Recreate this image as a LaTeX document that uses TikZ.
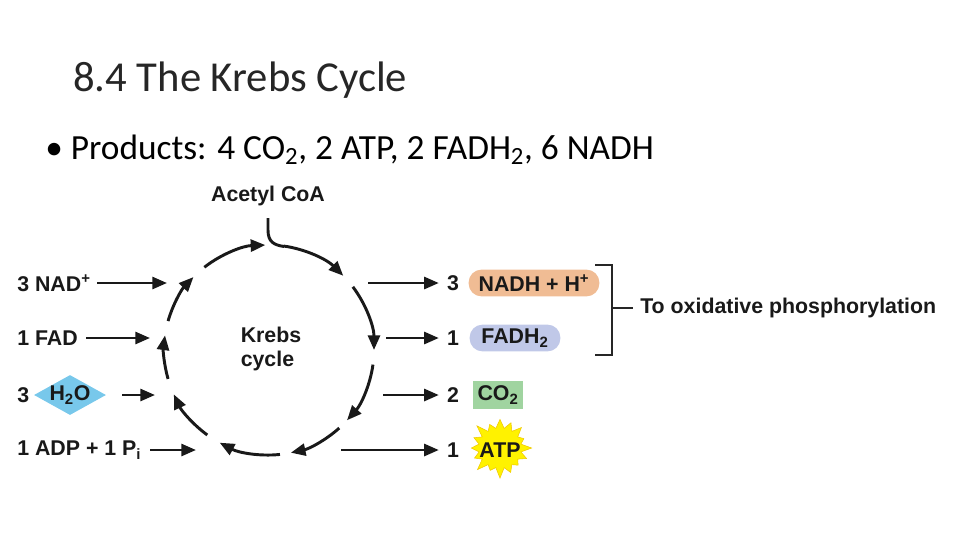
\documentclass[tikz,border=0pt]{standalone}
\usepackage{fontspec}
\setmainfont{Carlito}
\newfontfamily\arialf{Liberation Sans}
\usetikzlibrary{arrows.meta,shapes.geometric,shapes.symbols,calc}
\begin{document}
\begin{tikzpicture}[x=0.75pt,y=-0.75pt,
  lab/.style={font=\arialf\bfseries\fontsize{16}{18}\selectfont, inner sep=0pt, text=black!90},
  arr/.style={line width=2pt, -{Triangle[length=11pt,width=9pt]}, black!90},
  cyc/.style={line width=2.2pt, -{Triangle[length=11pt,width=9pt]}, black!90}]
\useasboundingbox (0,0) rectangle (960,540);
\node[anchor=west, inner sep=0pt, font=\fontsize{32}{36}\selectfont, text=black!85] (title) at (73,80) {8.4 The Krebs Cycle};
\node[anchor=west, inner sep=0pt, font=\fontsize{26.5}{30}\selectfont] (bul) at (45,150) {\textbullet\ Products: 4 CO\textsubscript{2}, 2 ATP, 2 FADH\textsubscript{2}, 6 NADH};
% cycle
\coordinate (c) at (269,350);
\def\R{105}
\foreach \a/\b in {128/92, 37/0, -8/-42, -48/-78, -84/-118, -126/-155, -164/-188, 164/136, 82/45}{
  \draw[cyc] ($(c)+({0-\a}:\R)$) arc[start angle={0-\a}, end angle={0-\b}, radius=\R];
}
\node[lab] (acoa) at (268,196) {Acetyl CoA};
\coordinate (ac1) at (268,218);
\draw[line width=2.2pt, black!90] (ac1) -- (268,230) .. controls (268,242) and (274,245) .. (284,246.5);
\node[lab, align=left] (kc) at (271,349) {Krebs\\cycle};
% left inputs
\node[lab, anchor=west] (nad) at (17,283) {3 NAD\textsuperscript{+}};
\coordinate (nadE) at (167,283);
\draw[arr] (97,283) -- (nadE);
\node[lab, anchor=west] (fad) at (17,338) {1 FAD};
\coordinate (fadE) at (150,338);
\draw[arr] (86,338) -- (fadE);
\node[lab, anchor=west] (three) at (17,395) {3};
\node[diamond, fill={rgb,255:red,120;green,200;blue,235}, minimum width=54pt, minimum height=30pt, inner sep=0pt, aspect=1.8] (h2o) at (70,395) {};
\node[lab] at (h2o) {H\textsubscript{2}O};
\coordinate (h2oE) at (155,395);
\draw[arr] (122,395) -- (h2oE);
\node[lab, anchor=west] (adp) at (17,450) {1 ADP + 1 P\textsubscript{i}};
\coordinate (adpE) at (196,450);
\draw[arr] (150,450) -- (adpE);
% right outputs
\coordinate (o1) at (368,283); \coordinate (o2) at (386,338);
\coordinate (o3) at (383,395); \coordinate (o4) at (341,450);
\node[lab] (n1) at (453,283) {3};
\node[lab] (n2) at (453,338) {1};
\node[lab] (n3) at (453,395) {2};
\node[lab] (n4) at (453,450) {1};
\foreach \o/\n in {o1/n1,o2/n2,o3/n3,o4/n4}{ \draw[arr] (\o) -- ([xshift=-6pt]\n.west); }
\node[lab, fill={rgb,255:red,240;green,188;blue,148}, rounded corners=9.5pt, minimum height=20pt, minimum width=98pt] (nadh) at (534,283) {NADH + H\textsuperscript{+}};
\node[lab, fill={rgb,255:red,192;green,200;blue,232}, rounded corners=9.5pt, minimum height=20pt, minimum width=68pt] (fadh) at (515,338) {FADH\textsubscript{2}};
\node[lab, fill={rgb,255:red,160;green,212;blue,160}, minimum height=21pt, minimum width=37pt] (co2) at (498,395) {CO\textsubscript{2}};
\node[starburst, starburst points=16, starburst point height=9pt, fill=yellow, draw={rgb,255:red,240;green,200;blue,0}, minimum width=50pt, minimum height=48pt, inner sep=0pt] (atpS) at (500,448) {};
\node[lab] (atp) at (500,450) {ATP};
% bracket
\draw[line width=1.4pt, black!85] (595,265) -- (612,265) -- (612,355) -- (595,355);
\coordinate (bm) at (612,308);
\node[lab, anchor=west] (ox) at (640,308) {To oxidative phosphorylation};
\draw[line width=1.4pt, black!85] (bm) -- ([xshift=-5pt]ox.west);
\end{tikzpicture}
\end{document}
